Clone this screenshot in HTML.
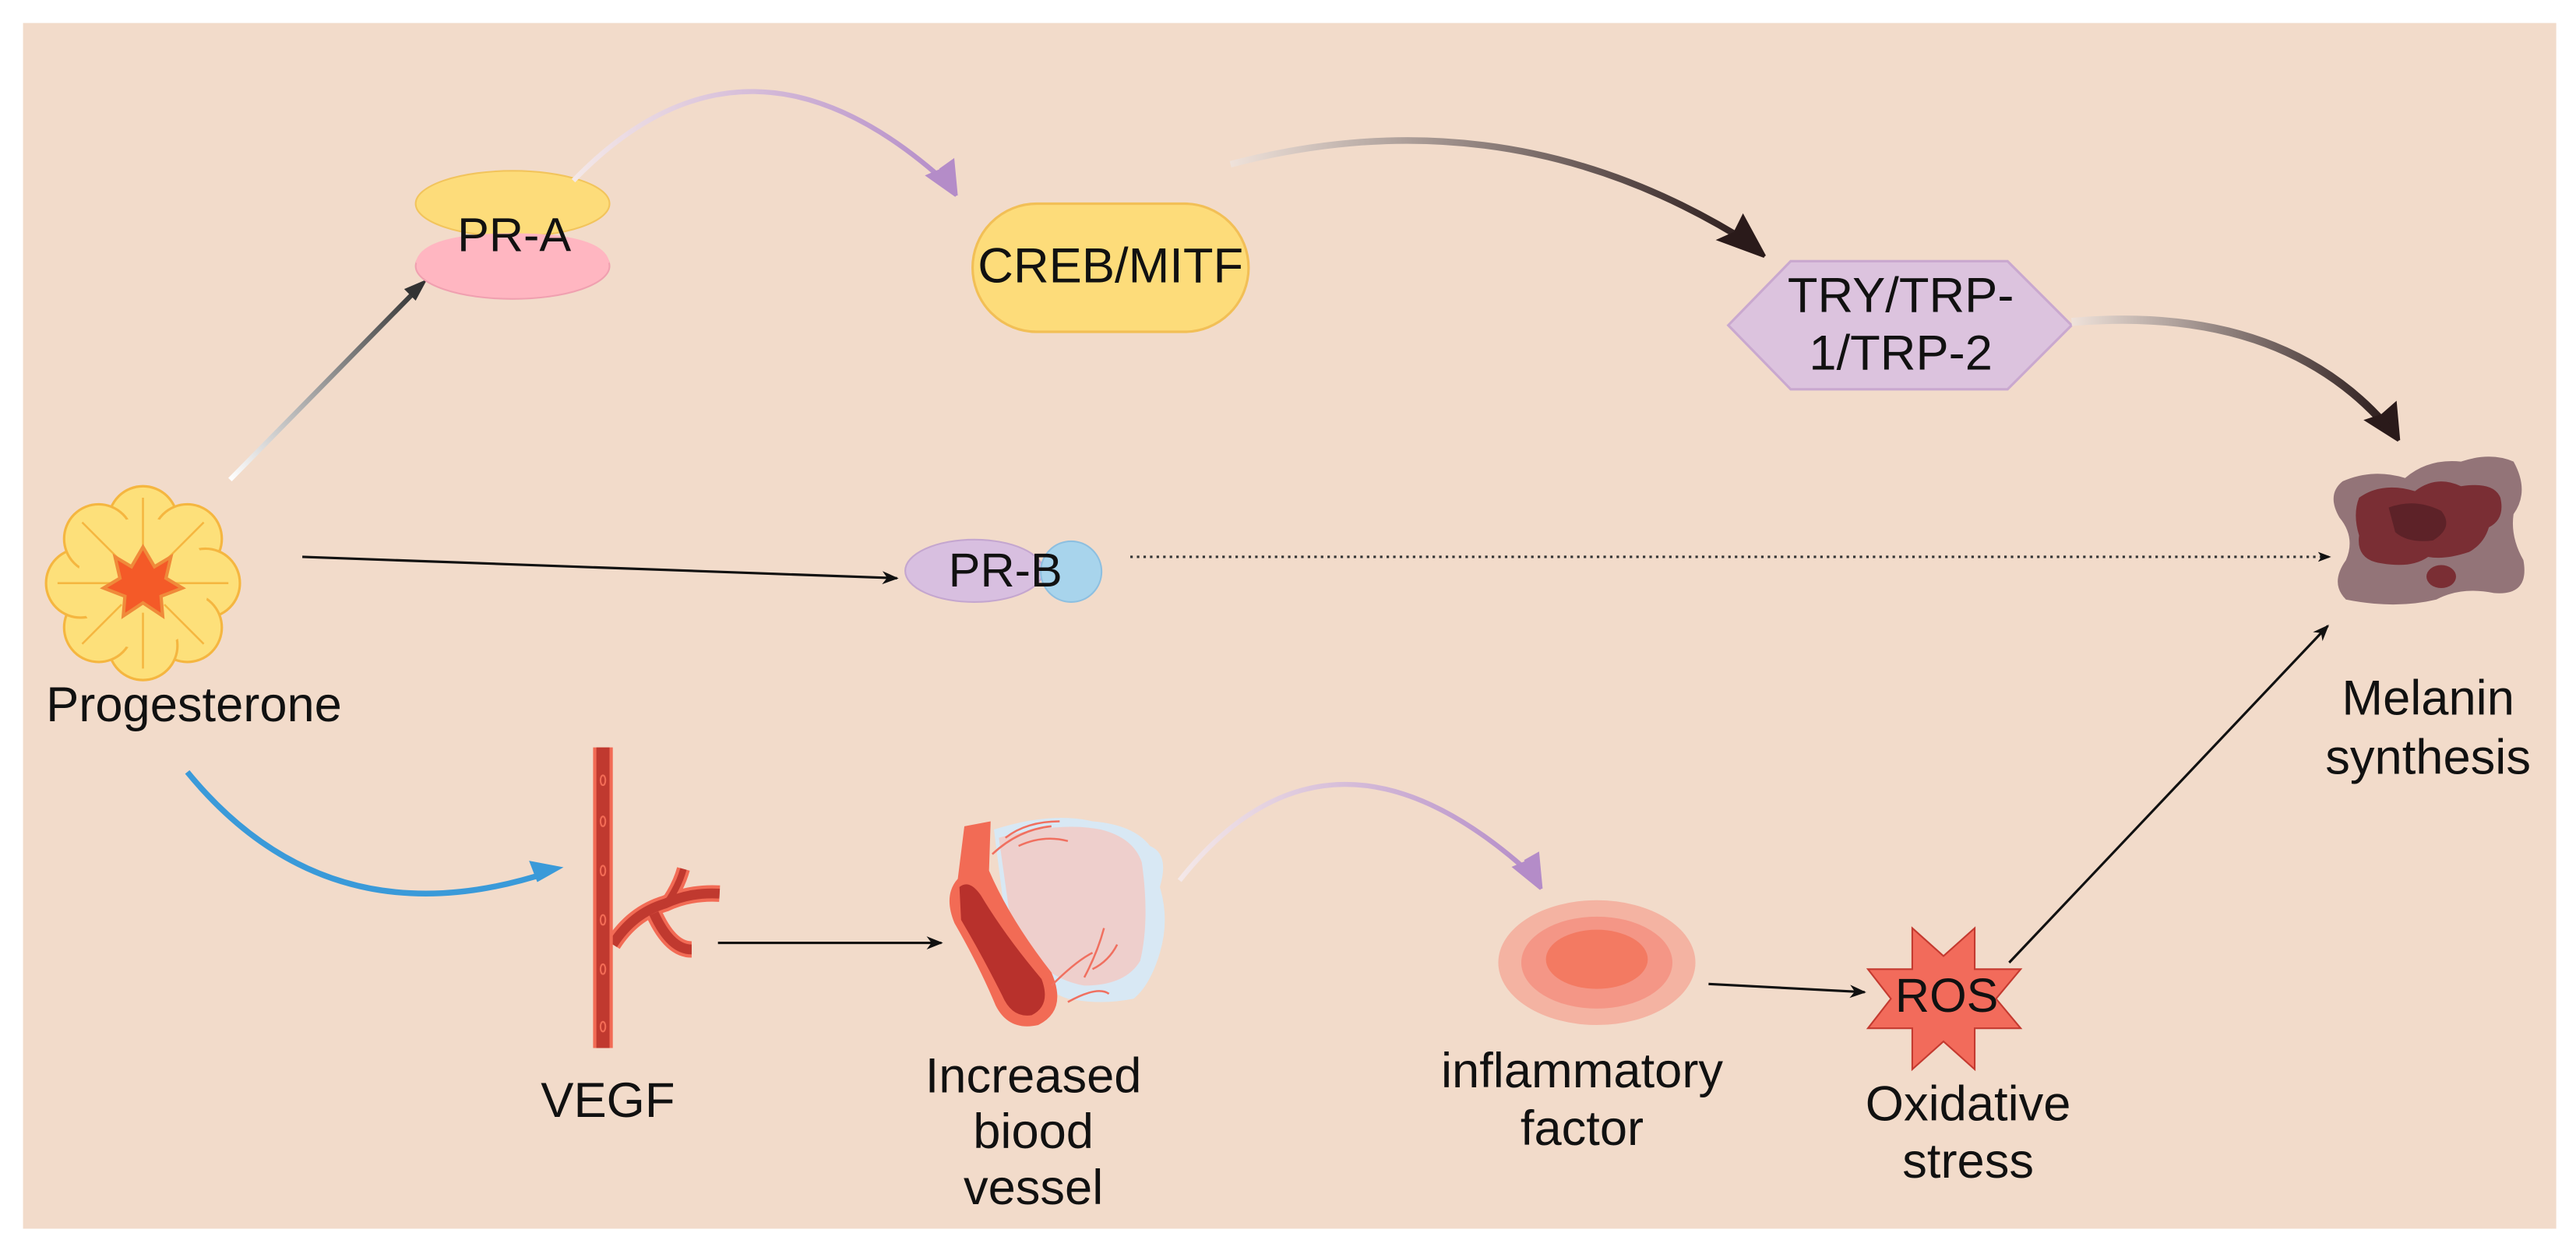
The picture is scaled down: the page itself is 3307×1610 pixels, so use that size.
<!DOCTYPE html>
<html><head><meta charset="utf-8"><style>
html,body{margin:0;padding:0;background:#fff;}
svg{display:block;}
text{font-family:"Liberation Sans",Arial,sans-serif;fill:#111;}
</style></head><body>
<svg width="3307" height="1610" viewBox="0 0 1568 763.4" xmlns="http://www.w3.org/2000/svg">
<defs>
<linearGradient id="g1" x1="0" y1="1" x2="1" y2="0"><stop offset="0" stop-color="#fff"/><stop offset="1" stop-color="#333"/></linearGradient>
<linearGradient id="gp" x1="0" y1="0" x2="1" y2="0"><stop offset="0" stop-color="#f4e8e8"/><stop offset="1" stop-color="#b48cc8"/></linearGradient>
<linearGradient id="gd" x1="0" y1="0" x2="1" y2="0"><stop offset="0" stop-color="#efe2da"/><stop offset="1" stop-color="#2a1a1a"/></linearGradient>
<marker id="ah" markerWidth="10" markerHeight="10" refX="9" refY="5" orient="auto" markerUnits="userSpaceOnUse"><path d="M0,1 L10,5 L0,9 L3,5z" fill="#111"/></marker>
<marker id="ahs" markerWidth="8" markerHeight="8" refX="7" refY="4" orient="auto" markerUnits="userSpaceOnUse"><path d="M0,1 L8,4 L0,7 L2,4z" fill="#111"/></marker>
</defs>
<rect x="14" y="14" width="1542" height="734" fill="#f2dbca"/>

<!-- progesterone arrow to PR-A -->
<path d="M140,292 L255,175" stroke="url(#g1)" stroke-width="3" fill="none"/>
<path d="M260,170 L246,176 L253,183z" fill="#333"/>

<!-- Progesterone flower -->
<g transform="translate(87,355)">
<g fill="#fde07a" stroke="#f5b640" stroke-width="1.5">
<circle cx="0" cy="-38" r="21"/><circle cx="27" cy="-27" r="21"/><circle cx="38" cy="0" r="21"/><circle cx="27" cy="27" r="21"/>
<circle cx="0" cy="38" r="21"/><circle cx="-27" cy="27" r="21"/><circle cx="-38" cy="0" r="21"/><circle cx="-27" cy="-27" r="21"/>
</g>
<circle r="40" fill="#fde07a"/>
<g stroke="#f5b640" stroke-width="1.2"><line x1="0" y1="-18" x2="0" y2="-52"/><line x1="13" y1="-13" x2="37" y2="-37"/><line x1="18" y1="0" x2="52" y2="0"/><line x1="13" y1="13" x2="37" y2="37"/><line x1="0" y1="18" x2="0" y2="52"/><line x1="-13" y1="13" x2="-37" y2="37"/><line x1="-18" y1="0" x2="-52" y2="0"/><line x1="-13" y1="-13" x2="-37" y2="-37"/></g>
<path d="M0,-22 L7,-10 L17,-16 L14,-3 L24,3 L11,8 L12,20 L0,12 L-12,20 L-11,8 L-24,3 L-14,-3 L-17,-16 L-7,-10z" fill="#f45a28" stroke="#f08a3a" stroke-width="2"/>
</g>
<text x="28" y="439" font-size="30">Progesterone</text>

<!-- PR-A -->
<ellipse cx="312" cy="162" rx="59" ry="20" fill="#ffb6c1" stroke="#f0a0b0" stroke-width="1"/>
<ellipse cx="312" cy="124" rx="59" ry="20" fill="#fddc7a" stroke="#f2c45c" stroke-width="1"/>
<path d="M253,160 Q256,142 312,142 Q368,142 371,160" fill="#ffb6c1"/>
<text x="313" y="153" font-size="29" text-anchor="middle">PR-A</text>

<!-- purple curve to CREB -->
<path d="M349,110 Q455,0 578,113" stroke="url(#gp)" stroke-width="3" fill="none"/>
<path d="M582,119 L565,107 L572,104z M582,119 L580,98 L573,103z" fill="#b48cc8" stroke="#b48cc8" stroke-width="2"/>

<!-- CREB/MITF -->
<rect x="592" y="124" width="168" height="78" rx="39" fill="#fddc7a" stroke="#f2bf56" stroke-width="1.5"/>
<text x="676" y="172" font-size="30" text-anchor="middle">CREB/MITF</text>

<!-- dark curve to TRY -->
<path d="M749,100 Q920,55 1068,150" stroke="url(#gd)" stroke-width="4" fill="none"/>
<path d="M1074,156 L1047,146 L1056,142z M1074,156 L1061,132 L1056,142z" fill="#2a1a1a" stroke="#2a1a1a" stroke-width="2"/>

<!-- TRY hexagon -->
<polygon points="1090,159 1222,159 1261,198 1222,237 1090,237 1052,198" fill="#dcc3de" stroke="#c9a8cf" stroke-width="1.5"/>
<text x="1157" y="190" font-size="30" text-anchor="middle">TRY/TRP-</text>
<text x="1157" y="225" font-size="30" text-anchor="middle">1/TRP-2</text>

<!-- dark curve to melanin -->
<path d="M1261,196 Q1390,185 1455,262" stroke="url(#gd)" stroke-width="5" fill="none"/>
<path d="M1460,268 L1441,256 L1450,253z M1460,268 L1458,246 L1450,253z" fill="#2a1a1a" stroke="#2a1a1a" stroke-width="2"/>

<!-- Melanin blob -->
<g transform="translate(1478,321)">
<path d="M-52,-28 Q-34,-36 -14,-30 Q0,-42 20,-40 Q38,-46 52,-40 Q62,-22 52,-8 Q50,6 58,20 Q62,42 40,40 Q20,36 5,44 Q-20,50 -50,44 Q-60,34 -50,20 Q-44,6 -54,-6 Q-62,-20 -52,-28z" fill="#937478"/>
<path d="M-42,-18 Q-28,-28 -8,-22 Q5,-32 20,-25 Q40,-28 44,-18 Q47,-5 37,0 Q34,10 25,15 Q10,20 0,18 Q-10,25 -28,22 Q-44,20 -42,5 Q-46,-8 -42,-18z" fill="#7a2e34"/>
<path d="M-24,-12 Q-8,-18 8,-10 Q16,0 3,8 Q-12,10 -20,3z" fill="#5d2228"/>
<ellipse cx="8" cy="30" rx="9" ry="7" fill="#7a2e34"/>
</g>
<text x="1478" y="435" font-size="30" text-anchor="middle">Melanin</text>
<text x="1478" y="471" font-size="30" text-anchor="middle">synthesis</text>

<!-- PR-B line -->
<line x1="184" y1="339" x2="546" y2="352" stroke="#111" stroke-width="1.5" marker-end="url(#ah)"/>
<ellipse cx="593" cy="347.5" rx="42" ry="19" fill="#d8bfe0" stroke="#c4a6cf" stroke-width="1"/>
<circle cx="652" cy="348" r="18.5" fill="#a8d4ec" stroke="#8dbfe0" stroke-width="1"/>
<text x="612" y="357" font-size="29" text-anchor="middle">PR-B</text>
<line x1="688" y1="339" x2="1418" y2="339" stroke="#333" stroke-width="1.5" stroke-dasharray="1.5,2.5" marker-end="url(#ahs)"/>

<!-- blue curve -->
<path d="M114,470 Q200,575 334,531" stroke="#3a9ad9" stroke-width="3.5" fill="none"/>
<path d="M343,528 L322,524 L327,537z" fill="#3a9ad9"/>

<!-- VEGF vessel -->
<g fill="none" stroke-linecap="butt">
<path d="M373,575 Q385,556 405,550 Q420,543 438,544" stroke="#f26b55" stroke-width="10"/>
<path d="M405,551 Q413,540 416,529" stroke="#f26b55" stroke-width="8"/>
<path d="M398,556 Q408,578 421,578" stroke="#f26b55" stroke-width="10"/>
<path d="M373,575 Q385,556 405,550 Q420,543 438,544" stroke="#c0392f" stroke-width="6"/>
<path d="M405,551 Q413,540 416,529" stroke="#c0392f" stroke-width="4"/>
<path d="M398,556 Q408,578 421,578" stroke="#c0392f" stroke-width="6"/>
</g>
<rect x="361" y="455" width="12" height="183" fill="#f26b55"/>
<rect x="363" y="455" width="8" height="183" fill="#c0392f"/>
<g fill="none" stroke="#f26b55" stroke-width="1">
<ellipse cx="367" cy="475" rx="1.5" ry="3"/><ellipse cx="367" cy="500" rx="1.5" ry="3"/><ellipse cx="367" cy="530" rx="1.5" ry="3"/><ellipse cx="367" cy="560" rx="1.5" ry="3"/><ellipse cx="367" cy="590" rx="1.5" ry="3"/><ellipse cx="367" cy="625" rx="1.5" ry="3"/>
</g>
<text x="370" y="680" font-size="30" text-anchor="middle">VEGF</text>

<line x1="437" y1="574" x2="573" y2="574" stroke="#111" stroke-width="1.5" marker-end="url(#ah)"/>

<!-- Blood vessel -->
<g>
<path d="M605,505 Q640,494 665,500 Q690,502 700,515 Q712,520 706,540 Q712,560 706,580 Q700,600 690,608 Q670,612 650,608 Q625,600 612,560z" fill="#d8e8f4"/>
<path d="M608,510 Q645,500 670,505 Q690,510 695,525 Q700,560 694,585 Q685,600 660,600 Q630,595 615,560z" fill="#eecfcc"/>
<path d="M587,503 L603,500 L602,530 Q615,560 640,592 Q650,615 632,624 Q614,628 606,612 Q596,588 581,562 Q574,545 583,535z" fill="#f26b55"/>
<path d="M584,540 Q590,535 597,545 Q612,570 634,596 Q640,612 628,618 Q616,620 610,606 Q598,582 585,560z" fill="#b8312c"/>
<g fill="none" stroke="#f07060" stroke-width="1.2">
<path d="M604,520 Q620,505 640,503 M612,510 Q625,500 645,500 M620,515 Q635,508 650,512 M640,600 Q655,585 665,580 M650,610 Q668,600 675,605 M660,595 Q668,580 672,565 M665,590 Q675,585 680,575"/>
</g>
</g>
<text x="629" y="665" font-size="30" text-anchor="middle">Increased</text>
<text x="629" y="699" font-size="30" text-anchor="middle">biood</text>
<text x="629" y="733" font-size="30" text-anchor="middle">vessel</text>

<!-- purple curve 2 -->
<path d="M718,536 Q810,420 934,534" stroke="url(#gp)" stroke-width="3" fill="none"/>
<path d="M938,541 L922,528 L929,525z M938,541 L936,520 L929,524z" fill="#b48cc8" stroke="#b48cc8" stroke-width="2"/>

<!-- inflammatory -->
<ellipse cx="972" cy="586" rx="60" ry="38" fill="#f4b3a2"/>
<ellipse cx="972" cy="586" rx="46" ry="28" fill="#f49686"/>
<ellipse cx="972" cy="584" rx="31" ry="18" fill="#f37a62"/>
<text x="963" y="662" font-size="30" text-anchor="middle">inflammatory</text>
<text x="963" y="697" font-size="30" text-anchor="middle">factor</text>

<line x1="1040" y1="599" x2="1135" y2="604" stroke="#111" stroke-width="1.5" marker-end="url(#ah)"/>

<!-- ROS star -->
<polygon points="1164,565 1183,582 1202,565 1202,590 1230,590 1215,608 1230,626 1202,626 1202,651 1183,634 1164,651 1164,626 1137,626 1151,608 1137,590 1164,590" fill="#f26b5b" stroke="#c43a30" stroke-width="1"/>
<text x="1185" y="616" font-size="29" text-anchor="middle">ROS</text>
<text x="1198" y="682" font-size="30" text-anchor="middle">Oxidative</text>
<text x="1198" y="717" font-size="30" text-anchor="middle">stress</text>

<line x1="1223" y1="586" x2="1417" y2="381" stroke="#111" stroke-width="1.5" marker-end="url(#ah)"/>
</svg>
</body></html>
